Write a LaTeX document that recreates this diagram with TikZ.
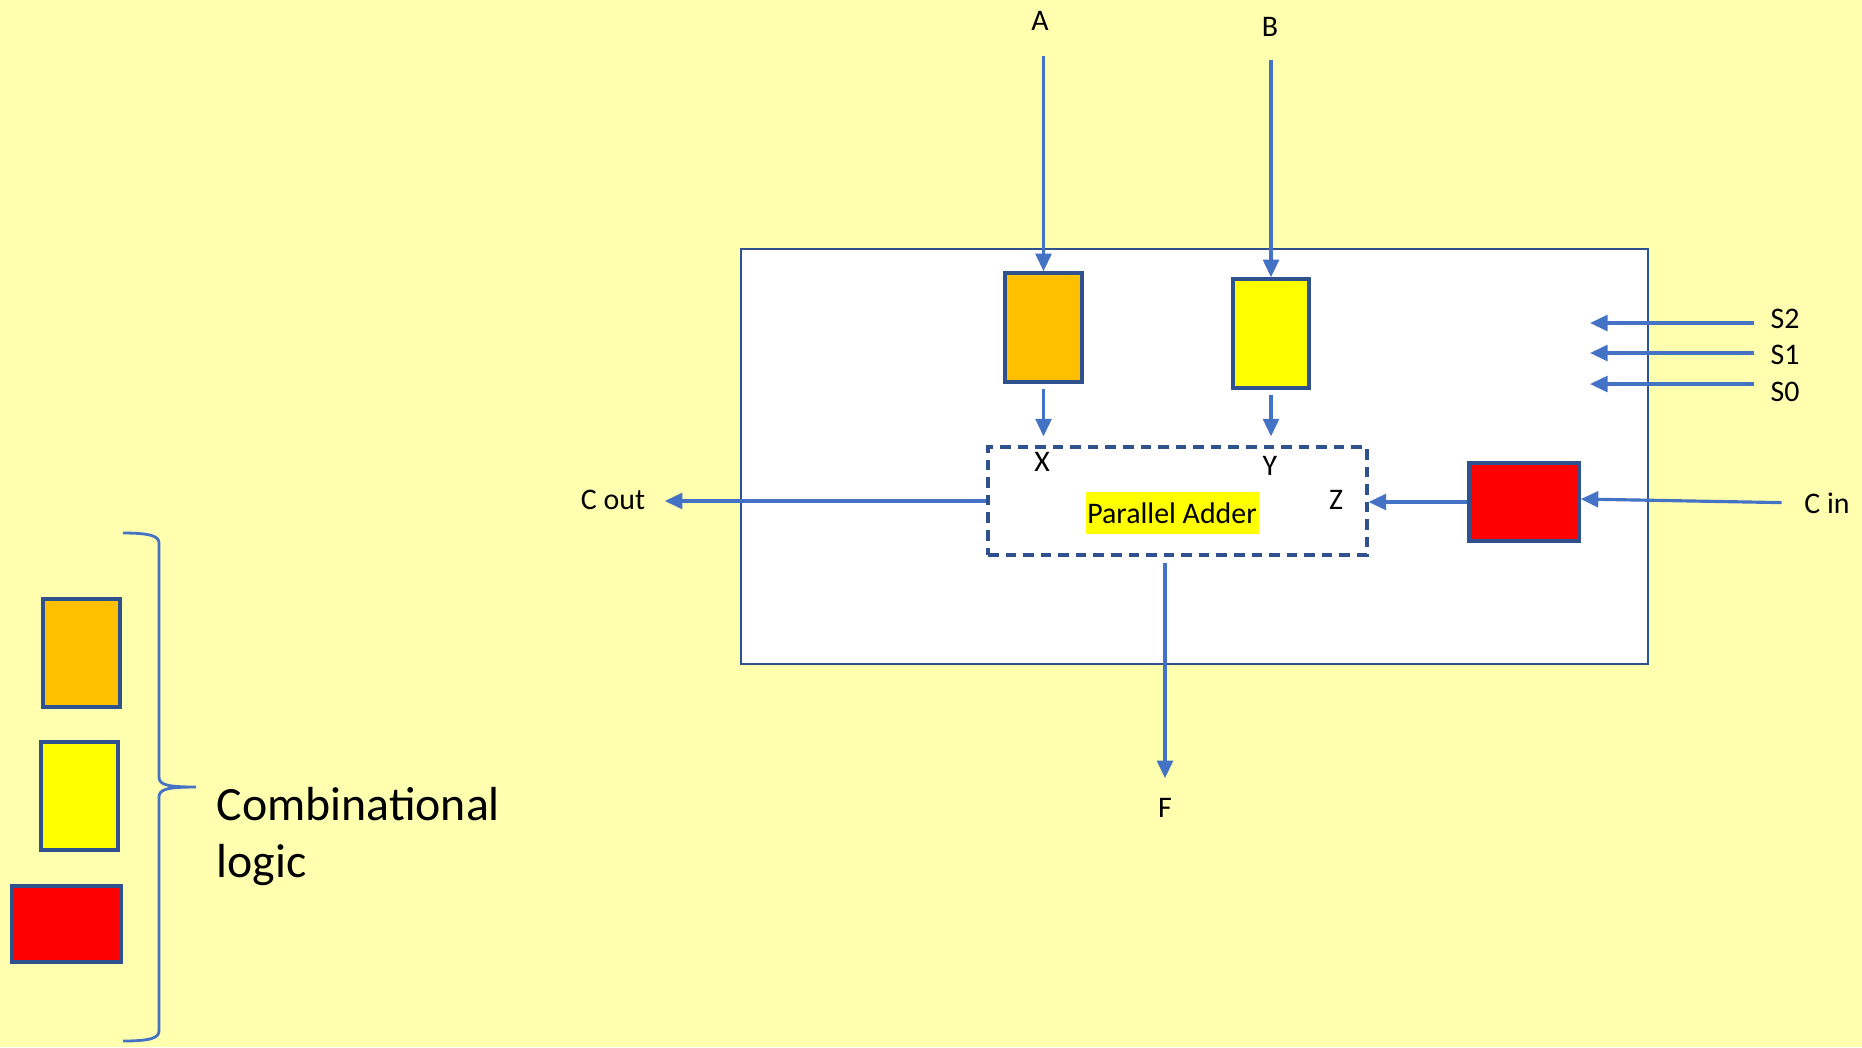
\documentclass[tikz,border=0pt]{standalone}
\usepackage{fontspec}
\setmainfont{Carlito}
\usetikzlibrary{arrows.meta, positioning}
\usepackage{xcolor}
\definecolor{slidebg}{HTML}{FFFFB0}
\definecolor{wireblue}{HTML}{4472C4}
\definecolor{edgeblue}{HTML}{2F528F}
\definecolor{blkorange}{HTML}{FFC000}
\definecolor{blkyellow}{HTML}{FFFF00}
\definecolor{blkred}{HTML}{FF0000}

\begin{document}
\begin{tikzpicture}[
    blk/.style={draw=edgeblue, line width=1pt, inner sep=0pt},
    lbl/.style={font=\fontsize{8.5}{10}\selectfont, inner sep=0pt},
    arr/.style={draw=wireblue, line width=0.9pt, -{Triangle[length=5pt, width=4.5pt]}},
]
\fill[slidebg] (0,0) rectangle (18.62,-10.47);
\useasboundingbox (0,0) rectangle (18.62,-10.47);

% ALU outline
\node[draw=edgeblue, line width=0.8pt, fill=white, minimum width=9.07cm, minimum height=4.15cm, inner sep=0pt] (alu) at (11.945,-4.565) {};

% Blocks inside
\node[blk, fill=blkorange, minimum width=0.77cm, minimum height=1.09cm] (xa) at (10.435,-3.275) {};
\node[blk, fill=blkyellow, minimum width=0.76cm, minimum height=1.09cm] (yb) at (12.71,-3.335) {};
\node[blk, fill=blkred, minimum width=1.10cm, minimum height=0.78cm] (cz) at (15.24,-5.02) {};

% Adder
\node[draw=edgeblue, line width=0.9pt, dash pattern=on 3pt off 2pt, minimum width=3.79cm, minimum height=1.08cm] (adder) at (11.775,-5.01) {};
\node[lbl, fill=blkyellow, minimum width=1.73cm, minimum height=0.42cm] (addtxt) at (11.72,-5.13) {Parallel Adder};

% Labels
\node[lbl] (lblA) at (10.40,-0.21) {A};
\node[lbl] (lblB) at (12.70,-0.27) {B};
\node[lbl] (lblX) at (10.42,-4.62) {X};
\node[lbl] (lblY) at (12.70,-4.66) {Y};
\node[lbl] (lblZ) at (13.36,-5.00) {Z};
\node[lbl] (lblCout) at (6.13,-5.00) {C out};
\node[lbl] (lblCin) at (18.27,-5.03) {C in};
\node[lbl] (lblF) at (11.65,-8.08) {F};

% Arrows
\draw[arr, shorten <=0.245cm] (lblA.south -| xa.north) -- (xa.north);
\draw[arr, shorten <=0.225cm] (lblB.south -| yb.north) -- (yb.north);
\draw[arr, shorten <=0.05cm, shorten >=0.09cm] (xa.south) -- (xa.south |- adder.north);
\draw[arr, shorten <=0.05cm, shorten >=0.09cm] (yb.south) -- (yb.south |- adder.north);
\draw[arr] (cz.west) -- (adder.east |- cz.west);
\draw[arr, shorten <=0.22cm] (lblCin.west) -- ([yshift=0.03cm]cz.east);
\draw[arr, shorten >=0.19cm] (adder.west) -- (adder.west -| lblCout.east);
\draw[arr, shorten <=0.06cm, shorten >=0.195cm] (adder.south -| lblF.north) -- (lblF.north);

% Select lines
\foreach \s/\ly/\wy in {2/-3.19/-3.23, 1/-3.55/-3.53, 0/-3.92/-3.84} {
    \node[lbl] (lblS\s) at (17.85,\ly) {S\s};
    \coordinate (sel\s) at (15.90,\wy);
    \draw[arr, shorten <=0.155cm] (lblS\s.west |- sel\s) -- (sel\s);
}

% Legend
\node[blk, fill=blkorange, minimum width=0.77cm, minimum height=1.08cm] (keyA) at (0.815,-6.53) {};
\node[blk, fill=blkyellow, minimum width=0.77cm, minimum height=1.08cm] (keyB) at (0.795,-7.96) {};
\node[blk, fill=blkred, minimum width=1.09cm, minimum height=0.76cm] (keyC) at (0.665,-9.24) {};
\draw[wireblue, line width=0.8pt] (1.23,-5.33) .. controls (1.50,-5.33) and (1.59,-5.36) .. (1.59,-5.43)
    -- (1.59,-7.77) .. controls (1.59,-7.85) and (1.68,-7.87) .. (1.96,-7.87)
    .. controls (1.68,-7.87) and (1.59,-7.89) .. (1.59,-7.97)
    -- (1.59,-10.31) .. controls (1.59,-10.38) and (1.50,-10.41) .. (1.23,-10.41);
\node[font=\fontsize{13.6}{16.2}\selectfont, align=left, anchor=base west, inner sep=0pt] (combo) at (2.16,-8.77) {Combinational\\logic};

\end{tikzpicture}
\end{document}
